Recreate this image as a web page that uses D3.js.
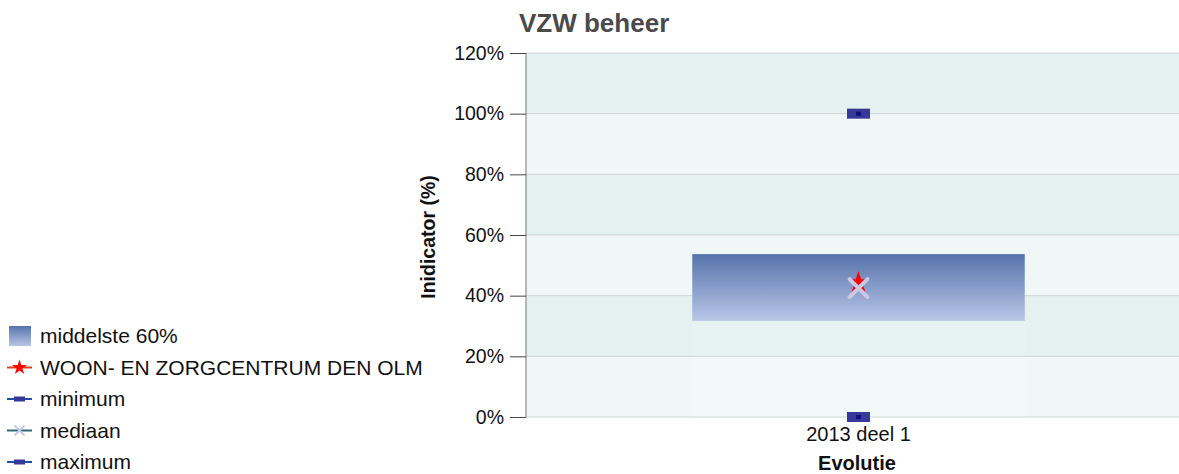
<!DOCTYPE html>
<html>
<head>
<meta charset="utf-8">
<script src="https://cdn.jsdelivr.net/npm/d3@7"></script>
<style>
  body { margin: 0; background: #fff; font-family: "Liberation Sans", Arial, sans-serif; }
</style>
</head>
<body>
<svg id="chart" width="1179" height="474"></svg>
<script>
// VZW beheer — box of middle 60% with min / median / max and own value

const categories = ["2013 deel 1"];
const p20 = [31.7];       // bottom of middle 60%
const p80 = [53.7];       // top of middle 60%
const minimum = [0];
const maximum = [100];
const mediaan = [42.5];
const eigen = [44.2];     // WOON- EN ZORGCENTRUM DEN OLM
const yTicks = [0, 20, 40, 60, 80, 100, 120];

const legendItems = [
    { label: "middelste 60%", kind: "box" },
    { label: "WOON- EN ZORGCENTRUM DEN OLM", kind: "star" },
    { label: "minimum", kind: "rect" },
    { label: "mediaan", kind: "cross" },
    { label: "maximum", kind: "rect" },
];

const svg = d3.select("#chart");
const m = { left: 526, right: 1191, top: 53, bottom: 417 };

const x = d3.scaleBand().domain(categories).range([m.left, m.right]).paddingInner(0).paddingOuter(0.5);
const y = d3.scaleLinear().domain([0, 120]).range([m.bottom, m.top]);

const defs = svg.append("defs");
const grad = defs.append("linearGradient").attr("id", "boxGrad").attr("x1", 0).attr("y1", 0).attr("x2", 0).attr("y2", 1);
grad.append("stop").attr("offset", "0%").attr("stop-color", "#5673ab");
grad.append("stop").attr("offset", "100%").attr("stop-color", "#b9c6e7");

// Alternating bands
const bands = d3.range(0, 120, 20);
svg.append("g").selectAll("rect")
    .data(bands)
    .join("rect")
    .attr("x", m.left).attr("width", m.right - m.left)
    .attr("y", d => y(d + 20)).attr("height", d => y(d) - y(d + 20))
    .attr("fill", (d, i) => i % 2 === 0 ? "#f0f8f7" : "#e3f2f0");

// Grid lines
svg.append("g").selectAll("line")
    .data(yTicks)
    .join("line")
    .attr("x1", m.left).attr("x2", m.right)
    .attr("y1", d => y(d)).attr("y2", d => y(d))
    .attr("stroke", "#cfd3d3").attr("stroke-width", 1);

// Faint base of stacked bar
svg.append("g").selectAll("rect")
    .data(categories)
    .join("rect")
    .attr("x", d => x(d)).attr("width", x.bandwidth())
    .attr("y", (d, i) => y(p20[i])).attr("height", (d, i) => y(0) - y(p20[i]))
    .attr("fill", "#ffffff").attr("fill-opacity", 0.12);

// Middle 60% box
svg.append("g").selectAll("rect")
    .data(categories)
    .join("rect")
    .attr("x", d => x(d)).attr("width", x.bandwidth())
    .attr("y", (d, i) => y(p80[i])).attr("height", (d, i) => y(p20[i]) - y(p80[i]))
    .attr("fill", "url(#boxGrad)");

// Axis
const yAxis = svg.append("g")
    .attr("transform", `translate(${m.left},0)`)
    .call(d3.axisLeft(y).tickValues(yTicks).tickSize(16).tickPadding(6).tickFormat(d => d + "%"));
yAxis.select(".domain").attr("stroke", "#777").attr("d", `M0,${m.top}V${m.bottom}`);
yAxis.selectAll(".tick line").attr("stroke", "#444");
yAxis.selectAll("text").attr("font-size", 19.5).attr("fill", "#111").attr("font-family", "Liberation Sans, Arial, sans-serif");

// Markers
const cx = d => x(d) + x.bandwidth() / 2;
const starPath = d3.symbol().type(d3.symbolStar).size(160)();
const crossPath = "M-9,-9L9,9M-9,9L9,-9";

function rectMarker(g, px, py) {
    g.append("rect").attr("x", px - 11.5).attr("y", py - 5).attr("width", 23).attr("height", 10).attr("fill", "#38389a");
    g.append("rect").attr("x", px - 2.5).attr("y", py - 2).attr("width", 5).attr("height", 4).attr("fill", "#101080");
}

const marks = svg.append("g");
categories.forEach((c, i) => {
    rectMarker(marks, cx(c), y(maximum[i]));
    rectMarker(marks, cx(c), y(minimum[i]));
    marks.append("path").attr("d", starPath).attr("fill", "#ff0000")
        .attr("transform", `translate(${cx(c)},${y(eigen[i])})`);
    marks.append("path").attr("d", crossPath).attr("stroke", "#c9c9e6").attr("stroke-width", 4)
        .attr("stroke-linecap", "round").attr("fill", "none")
        .attr("transform", `translate(${cx(c)},${y(mediaan[i])})`);
});

// X labels
svg.append("g").selectAll("text")
    .data(categories)
    .join("text")
    .attr("x", cx).attr("y", 441)
    .attr("text-anchor", "middle").attr("font-size", 20).attr("fill", "#111")
    .text(d => d);

svg.append("text").attr("x", 857).attr("y", 470).attr("text-anchor", "middle")
    .attr("font-size", 20).attr("font-weight", "bold").attr("fill", "#111").text("Evolutie");

svg.append("text").attr("transform", `translate(435,237) rotate(-90)`).attr("text-anchor", "middle")
    .attr("font-size", 19.5).attr("font-weight", "bold").attr("fill", "#111").text("Inidicator (%)");

// Title
svg.append("text").attr("x", 519).attr("y", 31.5)
    .attr("font-size", 26).attr("font-weight", "bold").attr("fill", "#4a4a4a").text("VZW beheer");

// Legend
const lg = svg.append("g");
const ly = d3.scalePoint().domain(legendItems.map(d => d.label)).range([343, 469]);
legendItems.forEach(it => {
    const base = ly(it.label);
    const yy = base - 7;
    const g = lg.append("g");
    if (it.kind === "box") {
        g.append("rect").attr("x", 9).attr("y", yy - 10).attr("width", 22).attr("height", 20).attr("fill", "url(#boxGrad)");
    } else {
        const col = it.kind === "star" ? "#e0401a" : it.kind === "cross" ? "#2a6a7a" : "#1f4fa8";
        g.append("line").attr("x1", 7).attr("x2", 32).attr("y1", yy).attr("y2", yy).attr("stroke", col).attr("stroke-width", 2);
        if (it.kind === "star") {
            g.append("path").attr("d", d3.symbol().type(d3.symbolStar).size(70)()).attr("fill", "#ff0000")
                .attr("transform", `translate(19.5,${yy})`);
        } else if (it.kind === "cross") {
            g.append("path").attr("d", "M-5,-5L5,5M-5,5L5,-5").attr("stroke", "#c9c9e6").attr("stroke-width", 2)
                .attr("transform", `translate(19.5,${yy})`);
        } else {
            g.append("rect").attr("x", 14).attr("y", yy - 2.5).attr("width", 11).attr("height", 5).attr("fill", "#38389a");
        }
    }
    g.append("text").attr("x", 40).attr("y", base).attr("font-size", 21).attr("fill", "#111").text(it.label);
});
</script>
</body>
</html>
